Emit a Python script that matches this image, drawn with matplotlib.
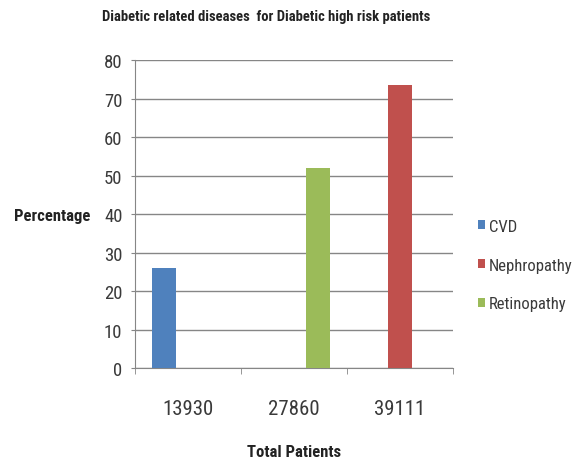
import numpy as np
import matplotlib
matplotlib.use('Agg')
import matplotlib.pyplot as plt

# --- data ---
categories = ['13930', '27860', '39111']
series_names = ['CVD', 'Nephropathy', 'Retinopathy']
cvd = [26, 0, 0]
nephropathy = [0, 0, 73.5]
retinopathy = [0, 52, 0]
colors = ['#4F81BD', '#C0504D', '#9BBB59']

plt.rcParams['font.family'] = ['Roboto Condensed', 'DejaVu Sans']

fig = plt.figure(figsize=(5.79, 4.64), dpi=100)
ax = fig.add_axes([0.2332, 0.2047, 0.5492, 0.6638])

x = np.arange(len(categories))
w = 0.226
for i, (vals, name) in enumerate(zip([cvd, nephropathy, retinopathy], series_names)):
    ax.bar(x + (i - 1) * w, vals, width=w, color=colors[i], label=name, zorder=3)

ax.set_xlim(-0.5, len(categories) - 0.5)
ax.set_ylim(0, 80)
ax.set_yticks(range(0, 81, 10))
ax.yaxis.grid(True, color='#868686', linewidth=1.0, zorder=0)

# category labels sit between the boundary ticks
ax.set_xticks(x)
ax.set_xticklabels(categories)
ax.tick_params(axis='x', length=0, pad=22, labelsize=15, labelcolor='#3a3a3a')
ax.set_xticks(np.arange(-0.5, len(categories), 1), minor=True)
ax.tick_params(axis='x', which='minor', length=4, color='#868686', direction='out')
ax.tick_params(axis='y', length=3, color='#868686', labelsize=13.5, labelcolor='#3a3a3a', pad=6)

for side in ['top', 'right']:
    ax.spines[side].set_visible(False)
ax.spines['left'].set_color('#868686')
ax.spines['bottom'].set_color('#868686')

fig.text(0.4594, 0.963, 'Diabetic related diseases  for Diabetic high risk patients',
         fontsize=10.5, fontweight='bold', color='#222222', ha='center', va='center')
fig.text(90 / 579, 1 - 217 / 464, 'Percentage', fontsize=12, fontweight='bold',
         color='#222222', ha='right', va='center')
fig.text(294 / 579, 1 - 453 / 464, 'Total Patients', fontsize=12, fontweight='bold',
         color='#222222', ha='center', va='center')

fig.legend(loc='center left', bbox_to_anchor=(0.7997, 0.4267), frameon=False, fontsize=12,
           handlelength=0.4, handleheight=0.45, handletextpad=0.25, labelspacing=1.42,
           labelcolor='#3a3a3a')

fig.savefig('out.png', dpi=100)
